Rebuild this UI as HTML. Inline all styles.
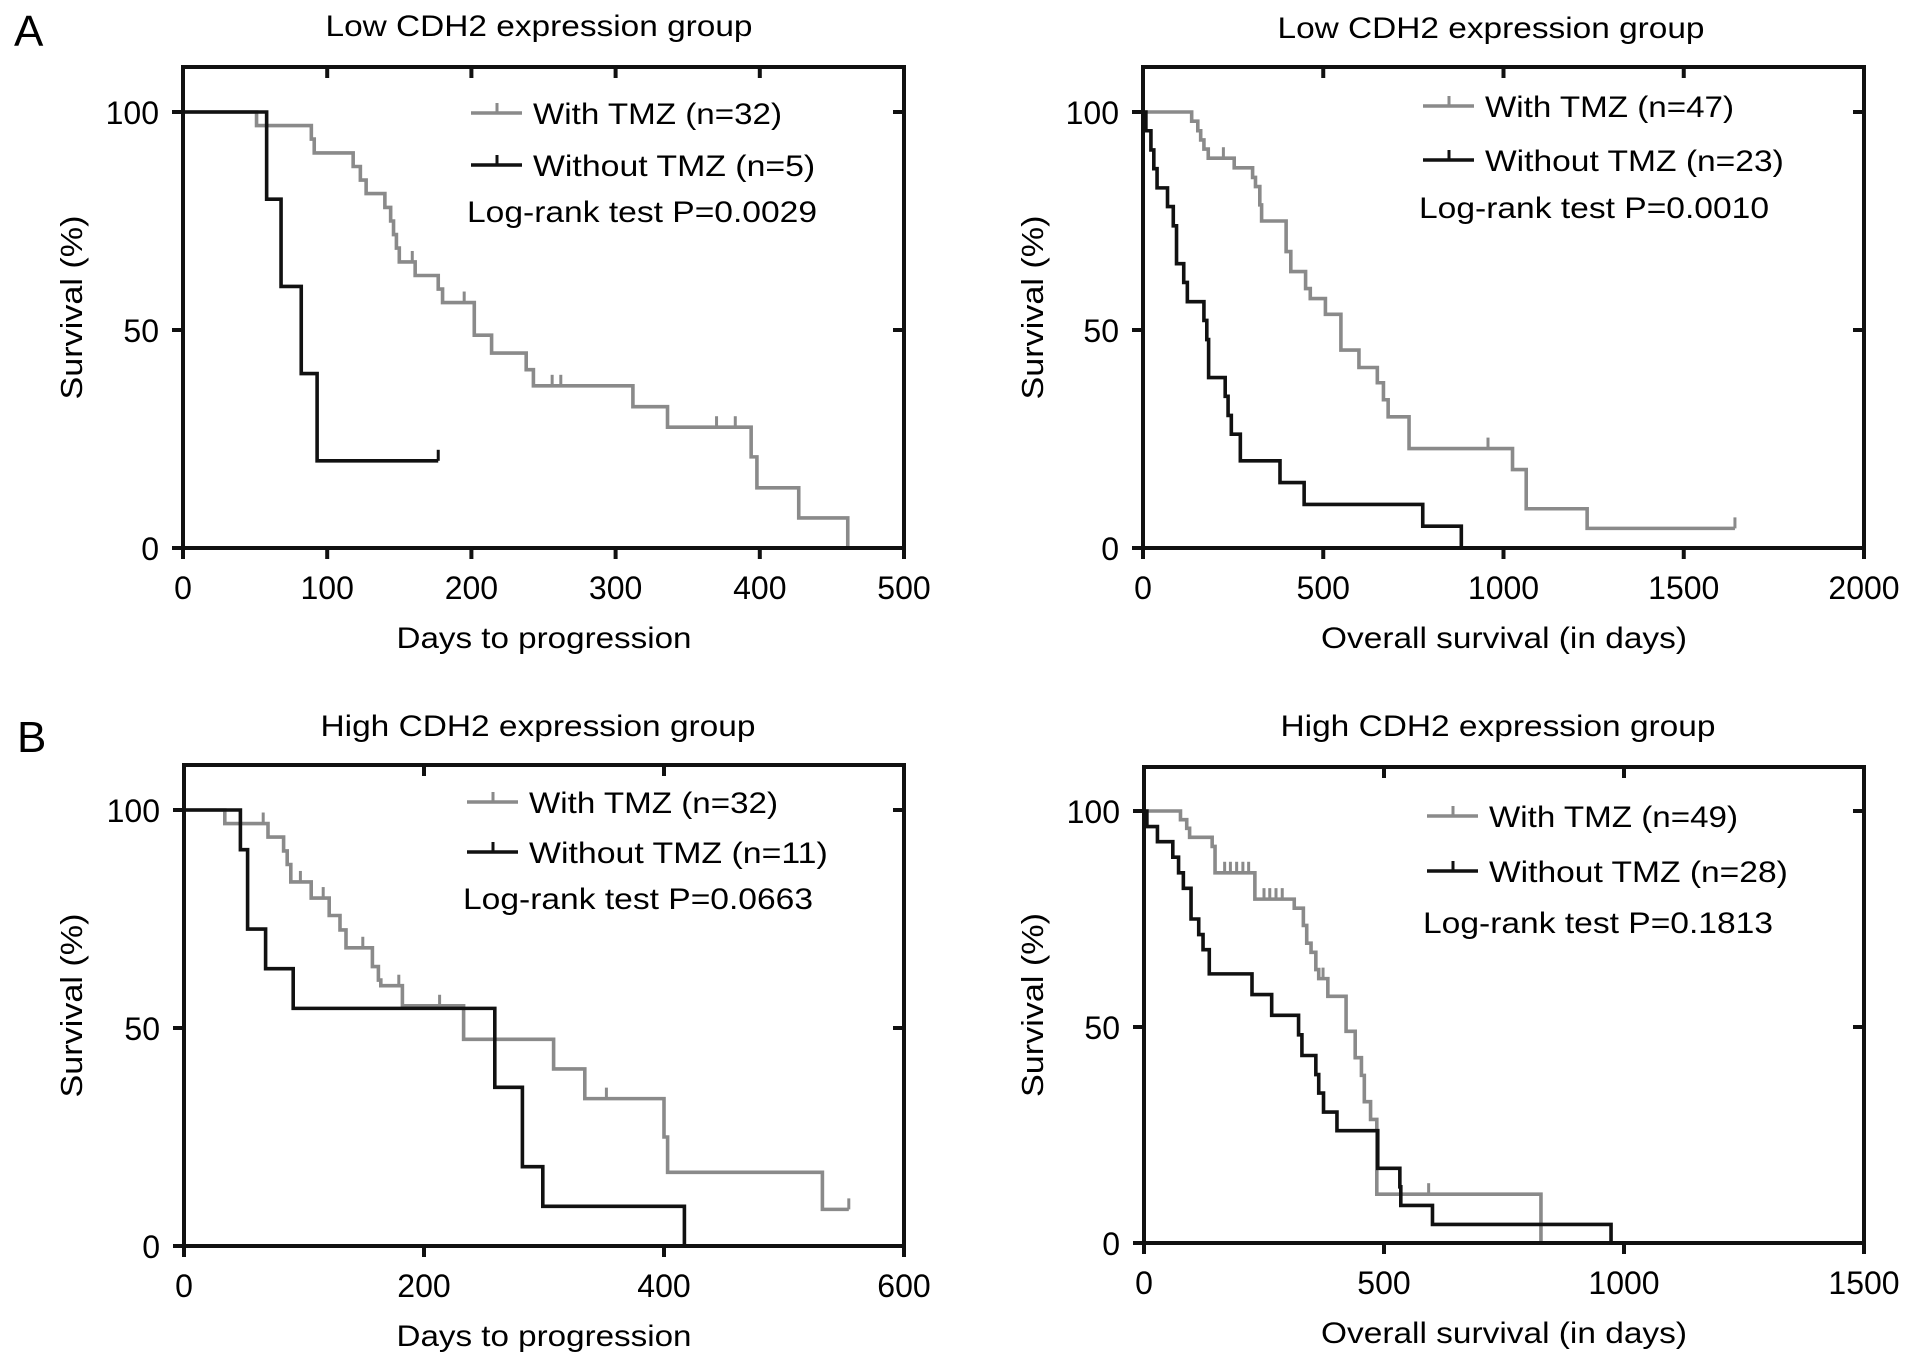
<!DOCTYPE html>
<html><head><meta charset="utf-8"><style>
html,body{margin:0;padding:0;background:#fff;}
svg{display:block;font-family:"Liberation Sans",Arial,sans-serif;}
</style></head><body>
<svg id="fig" width="1913" height="1364" viewBox="0 0 1913 1364">
<text x="14" y="46" font-size="44">A</text>
<text x="17" y="752" font-size="44">B</text>
</svg>
<script>
// ---- Data (time in days, survival %) ----
const tlWithT=[0,51,89,91,118,123,127,140,144,146,148,150,161,177,180,202,214,238,243,312,336,394,398,427,461];
const tlWithS=[100,96.9,93.8,90.6,87.5,84.4,81.3,78.1,75,71.9,68.8,65.6,62.5,59.4,56.3,48.8,44.7,40.9,37.2,32.4,27.7,20.9,13.8,6.9,0];
const tlWithCens=[159,195,256,262,370,383];
const tlWoT=[0,58,68,82,93];
const tlWoS=[100,80,60,40,20];
const tlWoCens=[177];

const trWithT=[0,135,152,160,169,181,253,304,312,324,329,397,410,451,464,506,549,599,650,667,680,738,1025,1063,1232];
const trWithS=[100,97.9,95.7,93.6,91.5,89.4,87.2,85,82.9,78.7,75,68,63.4,59.5,57.2,53.6,45.4,41.4,37.9,34,30.1,22.8,18,9,4.5];
const trWithCens=[223,957,1642];
const trWoT=[0,8,22,30,39,68,84,93,113,123,169,177,182,228,236,245,270,380,447,776,883];
const trWoS=[100,95.7,91.3,87,82.6,78.3,73.9,65.2,60.9,56.5,52.2,47.8,39.1,34.8,30.4,26.1,20,15,10,5,0];
const trWoCens=[];

const blWithT=[0,34,70,83,86,89,106,121,130,135,157,162,164,182,233,308,334,400,403,532];
const blWithS=[100,96.9,93.8,90.6,87.5,83.5,79.8,75.8,72.5,68.4,64.1,61,59.7,55.1,47.4,40.6,33.8,25,16.9,8.4];
const blWithCens=[66,97,116,149,179,213,352,554];
const blWoT=[0,47,53,68,91,259,282,299,417];
const blWoS=[100,90.9,72.7,63.6,54.5,36.4,18.2,9.1,0];
const blWoCens=[];

const brWithT=[0,76,89,95,142,148,231,313,332,339,348,358,364,383,421,440,453,459,472,485,827];
const brWithS=[100,98,96,93.9,91.8,85.7,79.6,77.5,73.5,69.4,67.3,63.3,61.2,57.1,49,42.9,38.8,32.7,28.6,11.3,0];
const brWithCens=[168,180,193,206,218,250,262,275,288,373,593];
const brWoT=[0,6,28,60,72,82,98,114,123,136,225,266,322,329,358,364,374,402,487,533,535,601,973];
const brWoS=[100,96.4,92.9,89.3,85.7,82.1,75,71.4,67.9,62.3,57.5,52.7,48.2,43.4,39,34.7,30.3,26,17.3,13,8.7,4.3,0];
const brWoCens=[];

const tlXTicks=[0,100,200,300,400,500];
const trXTicks=[0,500,1000,1500,2000];
const blXTicks=[0,200,400,600];
const brXTicks=[0,500,1000,1500];
const yTicks=[0,50,100];

const svg=document.getElementById('fig');
const NS='http://www.w3.org/2000/svg';
function mk(tag,attrs,parent){const e=document.createElementNS(NS,tag);for(const k in attrs)e.setAttribute(k,attrs[k]);(parent||svg).appendChild(e);return e;}

function panel(p){
  const g=mk('g',{});
  
  
  const xs=t=>p.L+(t/p.xmax)*(p.R-p.L);
  const ys=s=>p.Y0-(s/100)*(p.Y0-p.Y100);
  const tt=mk('text',{x:p.tx,y:p.ty,'font-size':30,'text-anchor':'middle',textLength:p.tw,lengthAdjust:'spacingAndGlyphs'},g);
  tt.textContent=p.title;
  
  
  function curve(T,S,cens,end,color,name){
    let d='M'+xs(0)+','+ys(S[0]);
    for(let i=1;i<T.length;i++){d+=' H'+xs(T[i])+' V'+ys(S[i]);}
    if(end!=null && end>T[T.length-1]) d+=' H'+xs(end);
    const pth=mk('path',{d:d,fill:'none',stroke:color,'stroke-width':3.6,'stroke-linejoin':'miter'},g);
    
    
    cens.forEach(c=>{
      let s=S[0];for(let i=0;i<T.length;i++){if(T[i]<=c)s=S[i];}
      const l=mk('line',{x1:xs(c),x2:xs(c),y1:ys(s),y2:ys(s)-11,stroke:color,'stroke-width':3},g);
      
      
    });
  }
  curve(p.wT,p.wS,p.wC,p.wEnd,'#8a8a8a',p.id+'-with-tmz-curve');
  curve(p.oT,p.oS,p.oC,p.oEnd,'#111',p.id+'-without-tmz-curve');
  const fr=mk('rect',{x:p.L,y:p.top,width:p.R-p.L,height:p.Y0-p.top,fill:'none',stroke:'#111','stroke-width':4},g);
  
  
  p.xticks.forEach(v=>{
    const x=xs(v);
    mk('line',{x1:x,x2:x,y1:p.Y0,y2:p.Y0+11,stroke:'#111','stroke-width':4},g);
    if(v>0&&v<p.xmax)mk('line',{x1:x,x2:x,y1:p.top,y2:p.top+11,stroke:'#111','stroke-width':4},g);
    const t=mk('text',{x:x,y:p.Y0+51,'font-size':32,'text-anchor':'middle'},g);
    t.textContent=v;
    
    
  });
  yTicks.forEach(v=>{
    const y=ys(v);
    mk('line',{x1:p.L-11,x2:p.L,y1:y,y2:y,stroke:'#111','stroke-width':4},g);
    if(v>0)mk('line',{x1:p.R-11,x2:p.R,y1:y,y2:y,stroke:'#111','stroke-width':4},g);
    const t=mk('text',{x:p.L-24,y:y+12,'font-size':32,'text-anchor':'end'},g);
    t.textContent=v;
    
    
  });
  const xt=mk('text',{x:p.xtx,y:p.Y0+100,'font-size':30,'text-anchor':'middle',textLength:p.xtw,lengthAdjust:'spacingAndGlyphs'},g);
  xt.textContent=p.xtitle;
  
  
  const cy=(p.top+p.Y0)/2;
  const yt=mk('text',{x:p.ylx,y:cy,'font-size':31,'text-anchor':'middle',transform:'rotate(-90 '+p.ylx+' '+cy+')',textLength:184,lengthAdjust:'spacingAndGlyphs'},g);
  yt.textContent='Survival (%)';
  
  
  function leg(y,color,label,name){
    mk('line',{x1:p.lx,x2:p.lx+51,y1:y,y2:y,stroke:color,'stroke-width':3.6},g);
    mk('line',{x1:p.lx+26,x2:p.lx+26,y1:y,y2:y-10,stroke:color,'stroke-width':3},g);
    const t=mk('text',{x:p.lx+62,y:y+11,'font-size':30,textLength:label.length*16.6,lengthAdjust:'spacingAndGlyphs'},g);
    t.textContent=label;
    
    
  }
  leg(p.ly1,'#8a8a8a',p.l1,p.id+'-legend-with-tmz');
  leg(p.ly2,'#111',p.l2,p.id+'-legend-without-tmz');
  const lr=mk('text',{x:p.lx-4,y:p.ly3+11,'font-size':30,textLength:350,lengthAdjust:'spacingAndGlyphs'},g);
  lr.textContent=p.lr;
  
  
}

panel({id:'top-left',L:183,R:904,top:67,Y100:112,Y0:548,xmax:500,xticks:tlXTicks,
 title:'Low CDH2 expression group',tx:539,ty:36,tw:427,xtitle:'Days to progression',xtx:544,xtw:295,ylx:82,
 wT:tlWithT,wS:tlWithS,wC:tlWithCens,wEnd:461,oT:tlWoT,oS:tlWoS,oC:tlWoCens,oEnd:177,
 lx:471,ly1:113,ly2:165,ly3:211,l1:'With TMZ (n=32)',l2:'Without TMZ (n=5)',lr:'Log-rank test P=0.0029'});
panel({id:'top-right',L:1143,R:1864,top:67,Y100:112,Y0:548,xmax:2000,xticks:trXTicks,
 title:'Low CDH2 expression group',tx:1491,ty:38,tw:427,xtitle:'Overall survival (in days)',xtx:1504,xtw:366,ylx:1043,
 wT:trWithT,wS:trWithS,wC:trWithCens,wEnd:1642,oT:trWoT,oS:trWoS,oC:trWoCens,oEnd:null,
 lx:1423,ly1:106,ly2:160,ly3:207,l1:'With TMZ (n=47)',l2:'Without TMZ (n=23)',lr:'Log-rank test P=0.0010'});
panel({id:'bottom-left',L:184,R:904,top:765,Y100:810,Y0:1246,xmax:600,xticks:blXTicks,
 title:'High CDH2 expression group',tx:538,ty:736,tw:435,xtitle:'Days to progression',xtx:544,xtw:295,ylx:82,
 wT:blWithT,wS:blWithS,wC:blWithCens,wEnd:554,oT:blWoT,oS:blWoS,oC:blWoCens,oEnd:null,
 lx:467,ly1:802,ly2:852,ly3:898,l1:'With TMZ (n=32)',l2:'Without TMZ (n=11)',lr:'Log-rank test P=0.0663'});
panel({id:'bottom-right',L:1144,R:1864,top:767,Y100:811,Y0:1243,xmax:1500,xticks:brXTicks,
 title:'High CDH2 expression group',tx:1498,ty:736,tw:435,xtitle:'Overall survival (in days)',xtx:1504,xtw:366,ylx:1043,
 wT:brWithT,wS:brWithS,wC:brWithCens,wEnd:null,oT:brWoT,oS:brWoS,oC:brWoCens,oEnd:null,
 lx:1427,ly1:816,ly2:871,ly3:922,l1:'With TMZ (n=49)',l2:'Without TMZ (n=28)',lr:'Log-rank test P=0.1813'});
</script>
</body></html>
